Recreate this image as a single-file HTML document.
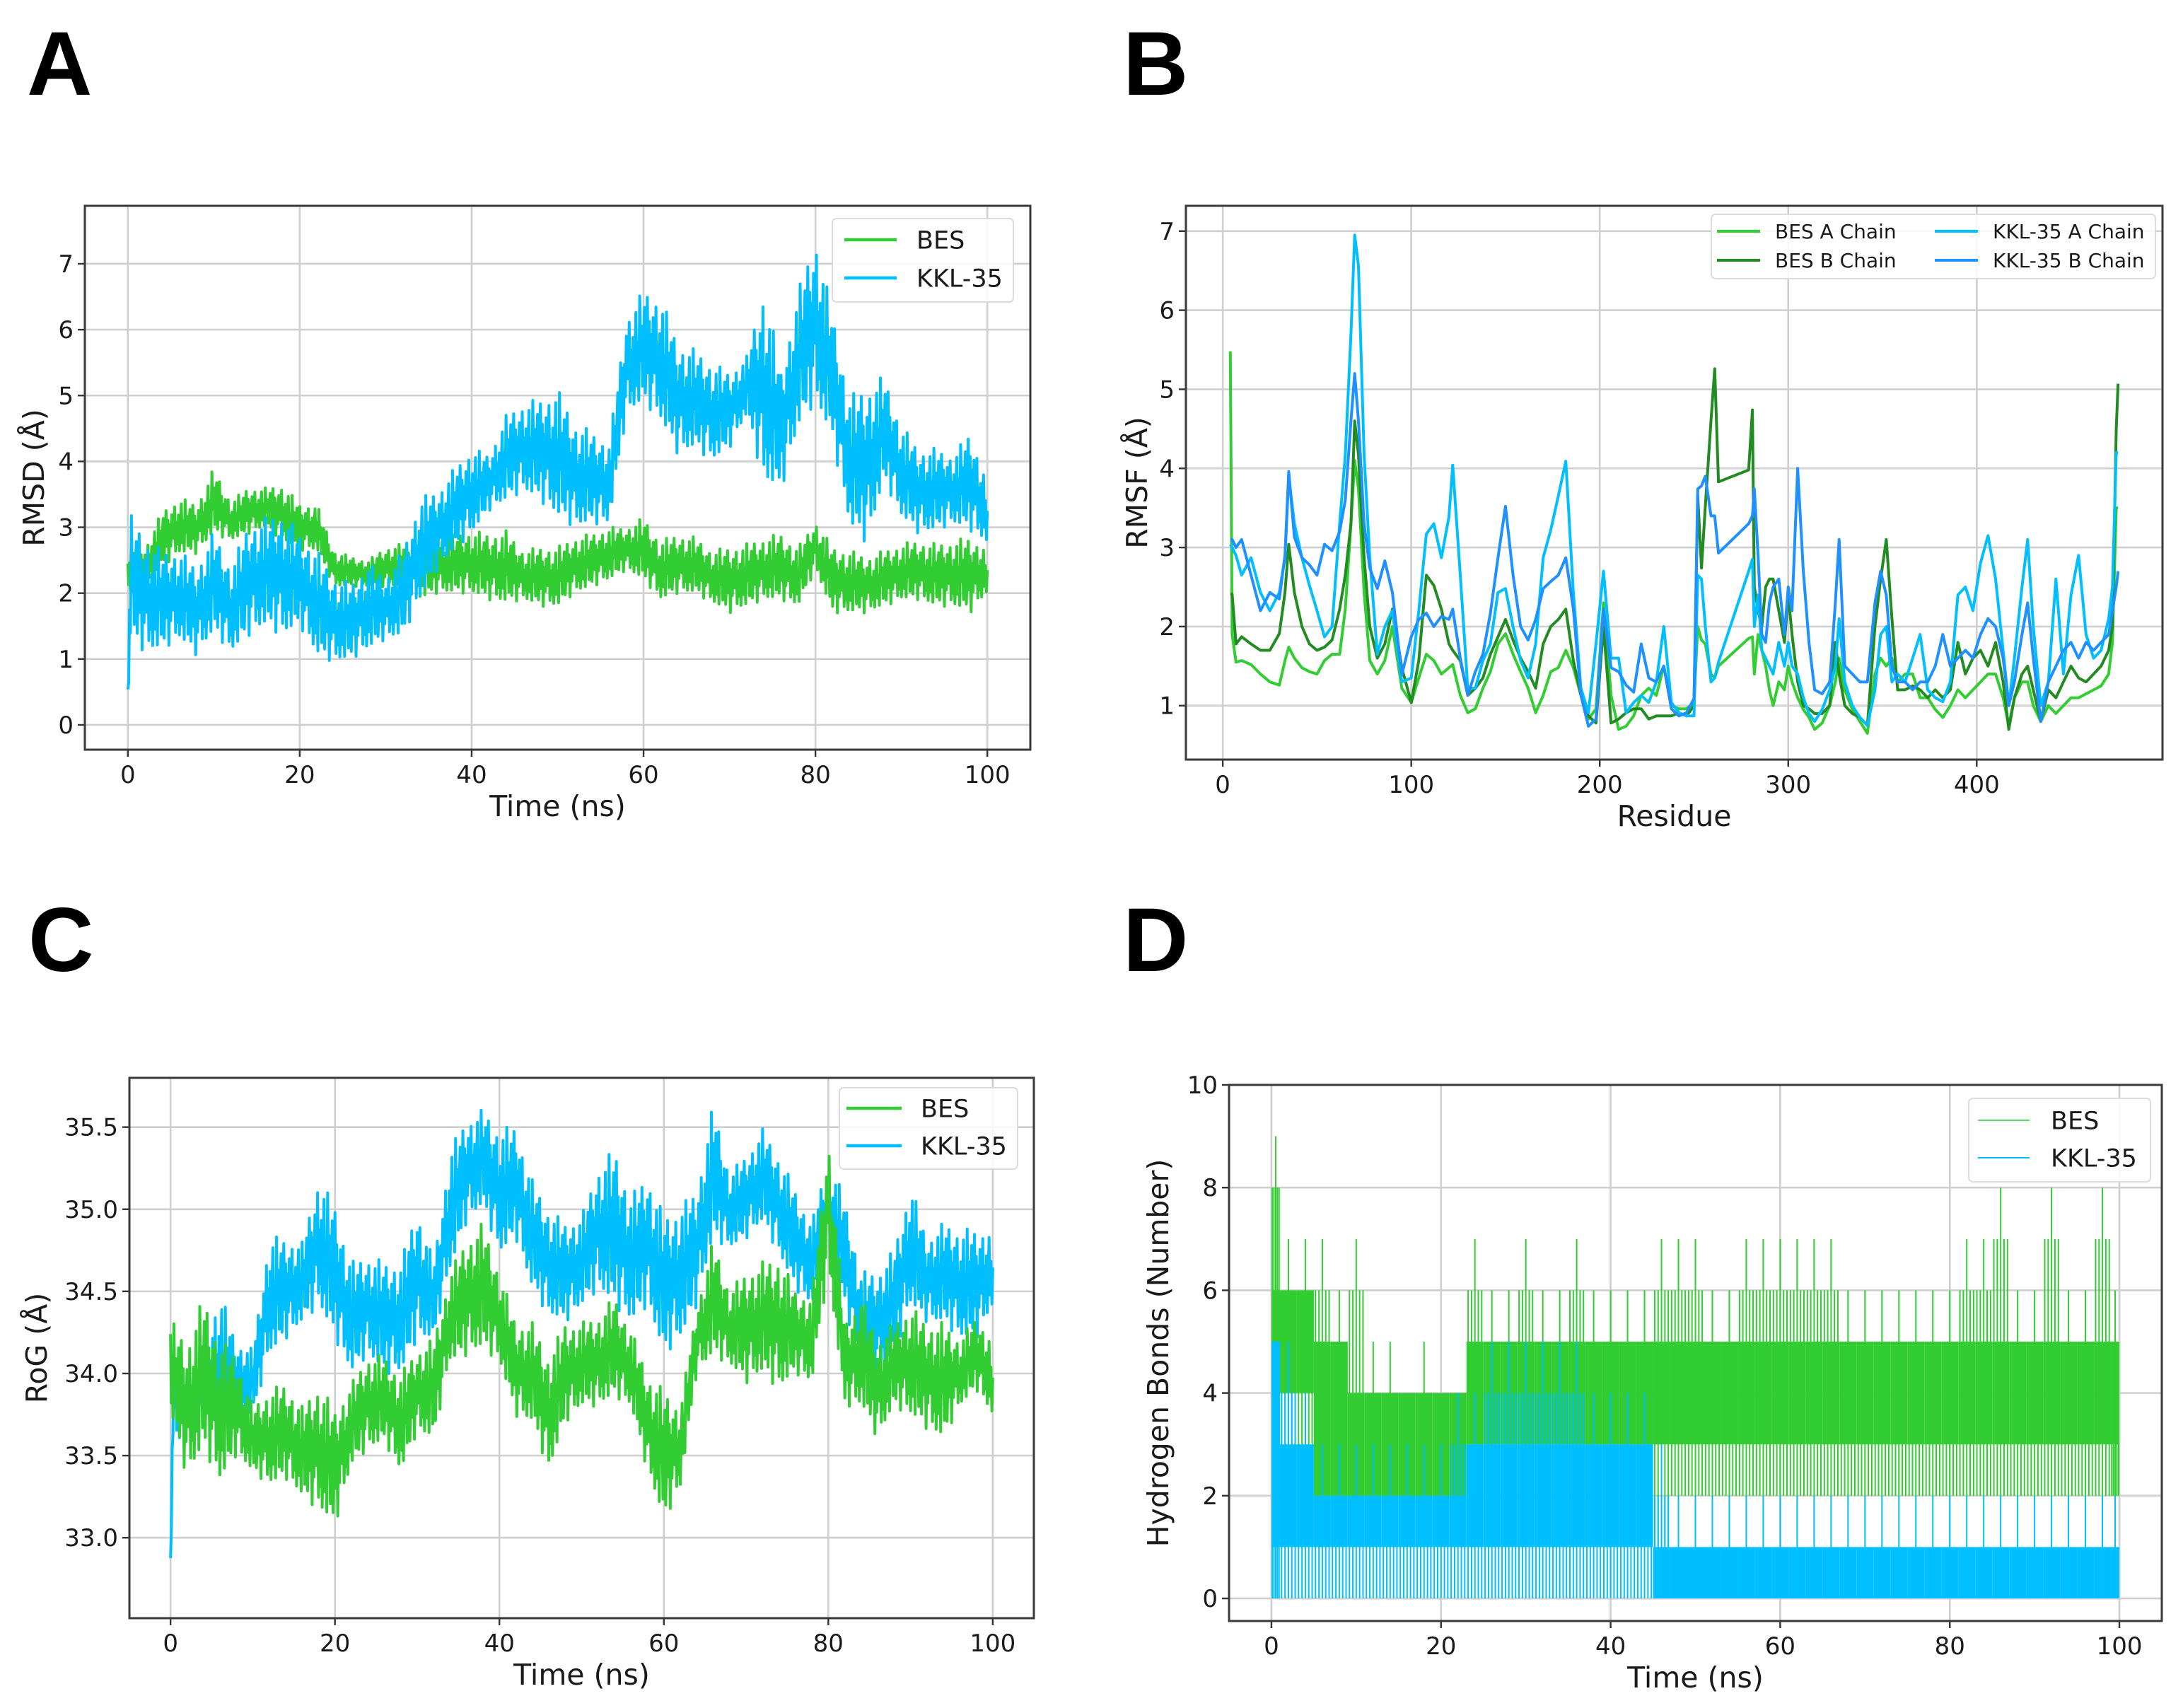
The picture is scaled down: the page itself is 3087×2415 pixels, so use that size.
<!DOCTYPE html>
<html><head><meta charset="utf-8"><title>MD analysis panels</title>
<style>
html,body{margin:0;padding:0;background:#fff;}
svg{display:block;}
text{font-family:"DejaVu Sans","Liberation Sans",sans-serif;fill:#1a1a1a;}
.letter{font-family:"Liberation Sans",sans-serif;font-weight:bold;font-size:128px;fill:#000;}
</style></head>
<body>
<svg id="fig" xmlns="http://www.w3.org/2000/svg" width="3087" height="2415" viewBox="0 0 3087 2415">
<rect x="0" y="0" width="3087" height="2415" fill="#fff"/>
<text class="letter" x="38" y="134">A</text>
<text class="letter" x="1588" y="134">B</text>
<text class="letter" x="40" y="1373">C</text>
<text class="letter" x="1588" y="1373">D</text>
</svg>
<script>
// ---------- Panel A: RMSD ----------
const A_time = [0,0.3,2,4,6,8,10,12,14,16,18,20,22,24,26,28,30,32,34,36,38,40,42,44,46,48,50,52,54,56,58,60,62,64,66,68,70,72,74,76,78,80,82,84,86,88,90,92,94,96,98,100];
const A_besHi = [2.5,2.9,2.7,3.25,3.45,3.35,3.9,3.4,3.6,3.6,3.65,3.35,3.35,2.65,2.55,2.5,2.7,2.75,2.9,2.85,2.9,2.95,2.9,2.95,2.65,2.7,2.7,2.85,2.9,3.0,3.0,3.15,2.8,2.9,2.85,2.65,2.7,2.75,2.85,2.9,2.7,3.1,2.7,2.65,2.55,2.65,2.75,2.8,2.75,2.8,2.85,2.7];
const A_besLo = [2.0,2.0,2.1,2.4,2.6,2.6,2.9,2.8,2.9,3.0,2.8,2.65,2.65,2.1,2.1,2.1,2.1,2.1,1.9,2.0,2.0,2.0,1.9,1.85,1.9,1.8,1.8,2.0,2.1,2.2,2.35,2.2,1.9,2.0,2.0,1.85,1.7,1.8,1.9,1.9,1.8,2.35,1.7,1.7,1.7,1.8,1.9,1.9,1.8,1.8,1.7,2.0];
const A_kklHi = [0.6,3.2,2.85,2.65,2.65,2.4,2.95,2.4,3.05,3.15,3.25,2.9,2.65,2.25,2.15,2.45,2.25,2.65,3.45,3.55,3.9,4.2,4.1,4.7,4.9,4.95,5.1,4.6,4.45,4.3,6.2,6.6,6.5,5.8,5.7,5.5,5.35,5.6,6.7,5.4,6.6,7.45,6.25,5.0,5.15,5.3,4.55,4.2,4.2,4.1,4.45,3.75];
const A_kklLo = [0.0,1.3,1.1,1.15,1.3,1.05,1.4,1.1,1.35,1.5,1.35,1.5,1.05,0.95,1.0,1.15,1.3,1.35,1.9,2.35,2.65,2.9,3.25,3.4,3.55,3.4,3.15,3.0,3.05,3.05,4.7,4.9,4.6,4.1,4.2,4.0,4.2,4.7,3.65,3.55,4.5,4.9,4.3,3.0,2.75,3.7,3.15,2.9,2.95,3.05,2.95,2.75];
const A_xTicks = [0,20,40,60,80,100];
const A_yTicks = [0,1,2,3,4,5,6,7];

// ---------- Panel B: RMSF ----------
const B_residue = [4,5,7,10,15,20,25,30,33,35,38,42,46,50,54,58,62,65,68,70,72,75,78,82,86,90,95,100,104,108,112,116,120,122,126,130,134,138,142,146,150,154,158,162,166,170,174,178,182,186,190,194,198,202,206,210,214,218,222,226,230,234,238,242,246,250,252,254,256,259,261,263,279,281,282,284,286,288,290,292,295,298,300,302,305,308,311,314,318,322,325,327,330,334,338,342,346,349,352,355,358,362,366,370,374,378,382,386,390,394,398,402,406,410,414,417,420,424,427,430,434,438,442,446,450,454,458,462,466,470,472,474,475];
const B_besA = [5.48,1.9,1.55,1.57,1.52,1.4,1.3,1.26,1.57,1.74, 1.6,1.48,1.43,1.4,1.57,1.65,1.65,2.22,3.3,4.1, 3.74,2.43,1.57,1.4,1.57,2.0,1.22,1.04,1.35,1.65, 1.57,1.4,1.48,1.52,1.13,0.91,0.96,1.22,1.43,1.78, 1.91,1.65,1.43,1.22,0.91,1.13,1.43,1.48,1.7,1.48, 1.13,0.83,0.96,2.3,1.13,0.7,0.74,0.87,1.13,1.22, 1.13,1.5,1.0,0.96,0.96,1.04,2.0,1.83,1.78,1.4, 1.35,1.5,1.85,1.87,1.4,1.9,1.7,1.5,1.2,1.0, 1.3,1.2,1.5,1.3,1.1,0.95,0.85,0.7,0.78,1.0, 1.3,1.6,1.2,0.95,0.8,0.65,1.4,1.6,1.5,1.6, 1.3,1.4,1.4,1.1,1.1,0.95,0.85,1.0,1.2,1.1, 1.2,1.3,1.4,1.4,1.1,0.75,1.1,1.3,1.3,1.0, 0.8,1.0,0.9,1.0,1.1,1.1,1.15,1.2,1.25,1.4, 1.8,3.5,3.5];
const B_besB = [2.41,2.41,1.78,1.87,1.78,1.7,1.7,1.91,2.43,3.04, 2.43,2.0,1.78,1.7,1.74,1.83,2.22,2.65,3.3,4.6, 4.17,2.87,2.0,1.6,1.78,2.22,1.48,1.04,1.57,2.65, 2.52,2.22,1.78,1.7,1.57,1.13,1.22,1.35,1.65,1.87, 2.09,1.83,1.6,1.43,1.22,1.78,2.0,2.09,2.22,1.57, 1.13,0.87,0.78,2.0,0.78,0.83,0.91,0.96,0.96,0.83, 0.87,0.87,0.87,0.91,0.87,1.0,3.65,2.74,3.52,4.6, 5.26,3.83,3.98,4.74,2.5,2.2,2.0,2.5,2.6,2.6, 2.2,1.8,2.4,1.9,1.3,1.0,0.96,0.9,0.9,1.0, 1.8,1.4,1.0,0.9,0.85,0.75,2.0,2.6,3.1,2.1, 1.2,1.2,1.25,1.2,1.1,1.2,1.1,1.2,1.8,1.4, 1.6,1.7,1.5,1.8,1.3,0.7,1.1,1.4,1.5,1.2, 0.8,1.2,1.1,1.3,1.5,1.35,1.3,1.4,1.5,1.7, 2.0,4.5,5.07];
const B_kklA = [3.04,3.0,2.9,2.65,2.87,2.43,2.2,2.43,2.87,3.9, 3.3,2.87,2.52,2.2,1.87,2.0,3.3,4.17,5.7,6.95, 6.56,4.17,2.87,1.65,2.0,2.2,1.3,1.35,2.2,3.17, 3.3,2.87,3.39,4.04,2.65,1.22,1.22,1.57,1.78,2.43, 2.48,2.0,1.57,1.35,1.78,2.87,3.22,3.65,4.09,2.43, 1.22,0.91,1.78,2.7,1.6,1.6,0.91,1.04,1.13,1.04, 1.3,2.0,1.04,0.91,0.87,0.87,2.65,2.6,2.0,1.3, 1.35,1.55,2.7,2.85,2.0,2.4,1.7,1.6,1.5,1.4, 1.8,1.5,1.8,1.5,1.4,1.1,0.9,0.8,0.95,1.2, 1.5,2.1,1.3,1.0,0.85,0.75,1.2,1.9,2.0,1.3, 1.4,1.3,1.6,1.9,1.2,1.1,1.05,1.3,2.4,2.5, 2.2,2.8,3.15,2.6,1.7,1.0,1.6,2.5,3.1,2.0, 1.0,1.3,2.6,1.4,2.4,2.9,1.9,1.6,1.7,2.1, 2.5,4.2,4.2];
const B_kklB = [3.1,3.1,3.0,3.1,2.65,2.2,2.43,2.35,2.9,3.96, 3.13,2.87,2.78,2.65,3.04,2.96,3.2,3.6,4.6,5.2, 4.6,3.3,2.74,2.48,2.83,2.43,1.39,1.87,2.09,2.17, 2.0,2.13,2.09,2.22,1.6,1.13,1.43,1.65,2.17,2.87, 3.52,2.65,2.0,1.83,2.09,2.48,2.57,2.65,2.87,2.22, 1.13,0.74,0.83,2.22,1.48,1.43,1.26,1.17,1.78,1.35, 1.3,1.5,0.96,0.87,0.91,1.09,3.74,3.78,3.9,3.4, 3.4,2.93,3.3,3.4,3.74,2.9,1.9,1.8,2.3,2.5, 2.6,1.9,2.5,2.2,4.0,2.7,1.8,1.2,1.15,1.3, 2.3,3.1,1.5,1.4,1.3,1.3,2.3,2.7,2.4,1.5, 1.3,1.3,1.2,1.3,1.3,1.5,1.9,1.5,1.6,1.7, 1.6,1.9,2.1,2.0,1.6,1.0,1.3,1.9,2.3,1.6, 0.8,1.3,1.5,1.7,1.8,1.6,1.8,1.7,1.8,1.9, 2.2,2.5,2.7];
const B_xTicks = [0,100,200,300,400];
const B_yTicks = [1,2,3,4,5,6,7];

// ---------- Panel C: RoG ----------
const C_time = [0,0.3,2,4,6,8,10,12,14,16,18,20,22,24,26,28,30,32,34,36,38,40,42,44,46,48,50,52,54,56,58,60,62,64,66,68,70,72,74,76,78,80,82,84,86,88,90,92,94,96,98,100];
const C_besHi = [34.3,34.31,34.19,34.47,34.21,34.11,33.8,33.9,33.94,33.8,33.94,33.78,33.94,34.11,34.11,34.0,34.15,34.21,34.62,34.82,34.92,34.62,34.31,34.31,34.11,34.31,34.31,34.35,34.47,34.27,34.0,33.9,33.8,34.41,34.82,34.51,34.62,34.68,34.72,34.51,34.47,35.47,34.31,34.47,34.21,34.31,34.41,34.31,34.31,34.21,34.35,34.21];
const C_besLo = [33.7,33.7,33.36,33.54,33.34,33.5,33.4,33.32,33.36,33.25,33.17,33.07,33.44,33.54,33.58,33.4,33.64,33.6,34.07,34.11,34.15,34.07,33.74,33.7,33.4,33.7,33.8,33.8,33.86,33.8,33.4,33.1,33.3,34.0,34.11,34.05,33.94,34.0,33.9,34.0,33.94,34.62,33.8,33.8,33.6,33.8,33.74,33.66,33.6,33.8,33.9,33.74];
const C_kklHi = [32.9,34.11,34.11,34.19,34.51,34.19,34.15,34.84,34.82,34.8,35.2,35.02,34.68,34.72,34.68,34.68,35.02,34.68,35.37,35.55,35.61,35.49,35.51,35.18,35.0,34.92,34.96,35.26,35.37,35.08,35.22,34.96,35.02,35.12,35.65,35.22,35.33,35.49,35.33,35.12,34.92,35.33,35.06,34.62,34.62,34.76,35.16,34.82,34.92,34.88,34.88,34.88];
const C_kklLo = [32.66,33.6,33.5,33.6,33.6,33.74,33.74,34.11,34.21,34.31,34.41,34.21,34.0,34.11,34.0,34.0,34.21,34.21,34.62,34.92,35.02,34.72,34.82,34.51,34.35,34.31,34.41,34.51,34.41,34.31,34.41,34.11,34.21,34.41,34.82,34.76,34.82,34.92,34.72,34.51,34.41,34.72,34.41,34.0,34.0,34.11,34.41,34.31,34.31,34.21,34.21,34.41];
const C_xTicks = [0,20,40,60,80,100];
const C_yTicks = [33.0,33.5,34.0,34.5,35.0,35.5];

// ---------- Panel D: Hydrogen bonds ----------
const D_time = [0,2,4,6,8,10,12,14,16,18,20,22,24,26,28,30,32,34,36,38,40,42,44,46,48,50,52,54,56,58,60,62,64,66,68,70,72,74,76,78,80,82,84,86,88,90,92,94,96,98,100];
const D_besLo = [4,4,4,2,2,2,2,2,2,2,2,2,3,3,3,3,3,3,3,3,3,3,3,3,3,3,3,3,3,3,3,3,3,3,3,3,3,3,3,3,3,3,3,3,3,3,3,3,3,3,3];
const D_besHi = [6,6,6,5,5,4,4,4,4,4,4,4,5,5,5,5,5,5,5,5,5,5,5,5,5,5,5,5,5,5,5,5,5,5,5,5,5,5,5,5,5,5,5,5,5,5,5,5,5,5,5];
const D_besMax = [9,7,7,7,6,7,5,5,4,5,4,4,7,6,6,7,6,6,7,6,6,6,6,7,7,7,6,6,7,7,7,7,7,7,6,6,6,6,6,6,6,7,7,8,6,6,8,6,6,8,6];
const D_besMin = [3,3,3,2,2,1,1,1,2,2,2,2,2,2,2,2,2,2,2,2,2,2,2,1,2,2,2,2,2,2,2,2,2,2,2,2,2,2,2,2,2,2,2,2,2,2,2,2,2,2,2];
const D_kklLo = [1,1,1,1,1,1,1,1,1,1,1,1,1,1,1,1,1,1,1,1,1,1,1,0,0,0,0,0,0,0,0,0,0,0,0,0,0,0,0,0,0,0,0,0,0,0,0,0,0,0,0];
const D_kklHi = [5,3,3,2,2,2,2,2,2,2,2,2,3,3,3,3,3,3,3,3,3,3,3,1,1,1,1,1,1,1,1,1,1,1,1,1,1,1,1,1,1,1,1,1,1,1,1,1,1,1,1];
const D_kklMax = [5,5,4,3,3,3,3,3,3,3,3,4,4,5,5,5,5,5,5,4,4,4,4,3,2,2,2,2,2,2,2,2,2,2,2,2,2,2,2,2,2,2,2,2,2,2,2,2,2,2,2];
const D_kklMin = [0,0,0,0,0,0,0,0,0,0,0,0,0,0,0,0,0,0,0,0,0,0,0,0,0,0,0,0,0,0,0,0,0,0,0,0,0,0,0,0,0,0,0,0,0,0,0,0,0,0,0];
const D_xTicks = [0,20,40,60,80,100];
const D_yTicks = [0,2,4,6,8,10];

const GREEN = '#32cd32', DKGREEN = '#228b22', SKY = '#00bfff', DODGER = '#1e90ff';
const NS = 'http://www.w3.org/2000/svg';
const svg = document.getElementById('fig');

function mk(tag, attrs, parent) {
  const e = document.createElementNS(NS, tag);
  for (const k in attrs) e.setAttribute(k, attrs[k]);
  (parent || svg).appendChild(e);
  return e;
}

function makeAxes(id, cfg) {
  const g = mk('g', {});
  
  
  const sx = v => cfg.L + (v - cfg.x0) / (cfg.x1 - cfg.x0) * (cfg.R - cfg.L);
  const sy = v => cfg.B - (v - cfg.y0) / (cfg.y1 - cfg.y0) * (cfg.B - cfg.T);
  const cp = mk('clipPath', {id: 'clip-' + id}, g);
  mk('rect', {x: cfg.L, y: cfg.T, width: cfg.R - cfg.L, height: cfg.B - cfg.T}, cp);
  const grid = mk('g', {stroke: '#cfcfcf', 'stroke-width': 2.6}, g);
  
  
  cfg.xt.forEach(v => {
    mk('line', {x1: sx(v), x2: sx(v), y1: cfg.T, y2: cfg.B}, grid);
    const t = mk('line', {x1: sx(v), x2: sx(v), y1: cfg.B, y2: cfg.B + 10, stroke: '#333', 'stroke-width': 2.4}, g);
    
    
    const lab = mk('text', {x: sx(v), y: cfg.B + 47, 'text-anchor': 'middle', 'font-size': 34}, g);
    lab.textContent = cfg.xfmt ? cfg.xfmt(v) : String(v);
    
    
  });
  cfg.yt.forEach(v => {
    mk('line', {x1: cfg.L, x2: cfg.R, y1: sy(v), y2: sy(v)}, grid);
    const t = mk('line', {x1: cfg.L - 10, x2: cfg.L, y1: sy(v), y2: sy(v), stroke: '#333', 'stroke-width': 2.4}, g);
    
    
    const lab = mk('text', {x: cfg.L - 16, y: sy(v) + 12, 'text-anchor': 'end', 'font-size': 34}, g);
    lab.textContent = cfg.yfmt ? cfg.yfmt(v) : String(v);
    
    
  });
  const data = mk('g', {'clip-path': 'url(#clip-' + id + ')'}, g);
  
  
  const xl = mk('text', {x: (cfg.L + cfg.R) / 2, y: cfg.B + 94, 'text-anchor': 'middle', 'font-size': 41}, g);
  xl.textContent = cfg.xlabel;
  
  
  const yc = (cfg.T + cfg.B) / 2;
  const yl = mk('text', {x: cfg.ylx, y: yc, 'text-anchor': 'middle', 'font-size': 41, transform: 'rotate(-90 ' + cfg.ylx + ' ' + yc + ')'}, g);
  yl.textContent = cfg.ylabel;
  
  
  return {g, data, sx, sy, cfg};
}

function frame(ax) {
  const c = ax.cfg;
  const f = mk('rect', {x: c.L, y: c.T, width: c.R - c.L, height: c.B - c.T, fill: 'none', stroke: '#3a3a3a', 'stroke-width': 3}, ax.g);
  
  
}

const PAT = [0.9,0.2,0.6,0.05,1,0.4,0.7,0.15,0.55,0.85,0.1,0.5,0.95,0.3,0.75,0,0.65,0.25,0.8,0.45,0.35,0.9,0.1,0.6,0.2,0.7,0.05,0.5];
function noisyBand(ax, times, hi, lo, color, width, name) {
  let pts = [], k = 0;
  for (let i = 0; i < times.length - 1; i++) {
    const n = Math.max(2, Math.round((times[i + 1] - times[i]) * 9));
    for (let j = 0; j < n; j++) {
      const f = j / n;
      const t = times[i] + (times[i + 1] - times[i]) * f;
      const h = hi[i] + (hi[i + 1] - hi[i]) * f;
      const l = lo[i] + (lo[i + 1] - lo[i]) * f;
      const p = PAT[k % PAT.length]; k++;
      const v = l + (h - l) * p;
      pts.push(ax.sx(t).toFixed(1) + ',' + ax.sy(v).toFixed(1));
    }
  }
  const last = times.length - 1;
  pts.push(ax.sx(times[last]).toFixed(1) + ',' + ax.sy((hi[last] + lo[last]) / 2).toFixed(1));
  const pl = mk('polyline', {points: pts.join(' '), fill: 'none', stroke: color, 'stroke-width': width, 'stroke-linejoin': 'round'}, ax.data);
  
  
}

function simpleLine(ax, xs, ys, color, width, name) {
  const pts = xs.map((x, i) => ax.sx(x).toFixed(1) + ',' + ax.sy(ys[i]).toFixed(1)).join(' ');
  const pl = mk('polyline', {points: pts, fill: 'none', stroke: color, 'stroke-width': width, 'stroke-linejoin': 'round'}, ax.data);
  
  
}

function legend(ax, box, entries, fs, lw) {
  const lg = mk('g', {}, ax.g);
  
  
  mk('rect', {x: box.x, y: box.y, width: box.w, height: box.h, rx: 6, fill: '#fff', 'fill-opacity': 0.85, stroke: '#dcdcdc', 'stroke-width': 2}, lg);
  entries.forEach(e => {
    const it = mk('g', {}, lg);
    
    
    mk('line', {x1: e.x1, x2: e.x2, y1: e.y, y2: e.y, stroke: e.c, 'stroke-width': lw}, it);
    const t = mk('text', {x: e.tx, y: e.y + fs * 0.36, 'font-size': fs}, it);
    t.textContent = e.label;
  });
}

// ---- Panel A ----
const axA = makeAxes('a', {L: 120, R: 1457, T: 291, B: 1060, x0: -5, x1: 105, y0: -0.376, y1: 7.88, xt: A_xTicks, yt: A_yTicks, xlabel: 'Time (ns)', ylabel: 'RMSD (Å)', ylx: 62});
noisyBand(axA, A_time, A_besHi, A_besLo, GREEN, 4, 'bes-rmsd-line');
noisyBand(axA, A_time, A_kklHi, A_kklLo, SKY, 4, 'kkl35-rmsd-line');
legend(axA, {x: 1177, y: 309, w: 256, h: 118}, [
  {x1: 1194, x2: 1268, tx: 1296, y: 339, c: GREEN, label: 'BES'},
  {x1: 1194, x2: 1268, tx: 1296, y: 393, c: SKY, label: 'KKL-35'}], 35, 4.5);
frame(axA);

// ---- Panel B ----
const axB = makeAxes('b', {L: 1677, R: 3058, T: 291, B: 1074, x0: -19.55, x1: 498.55, y0: 0.318, y1: 7.32, xt: B_xTicks, yt: B_yTicks, xlabel: 'Residue', ylabel: 'RMSF (Å)', ylx: 1622});
simpleLine(axB, B_residue, B_besA, GREEN, 4, 'bes-a-chain-line');
simpleLine(axB, B_residue, B_besB, DKGREEN, 4, 'bes-b-chain-line');
simpleLine(axB, B_residue, B_kklA, SKY, 4, 'kkl35-a-chain-line');
simpleLine(axB, B_residue, B_kklB, DODGER, 4, 'kkl35-b-chain-line');
legend(axB, {x: 2420, y: 303, w: 628, h: 91}, [
  {x1: 2428, x2: 2489, tx: 2510, y: 327, c: GREEN, label: 'BES A Chain'},
  {x1: 2428, x2: 2489, tx: 2510, y: 368, c: DKGREEN, label: 'BES B Chain'},
  {x1: 2736, x2: 2797, tx: 2818, y: 327, c: SKY, label: 'KKL-35 A Chain'},
  {x1: 2736, x2: 2797, tx: 2818, y: 368, c: DODGER, label: 'KKL-35 B Chain'}], 28, 4);
frame(axB);

// ---- Panel C ----
const axC = makeAxes('c', {L: 183, R: 1462, T: 1524, B: 2288, x0: -5, x1: 105, y0: 32.51, y1: 35.80, xt: C_xTicks, yt: C_yTicks, xlabel: 'Time (ns)', ylabel: 'RoG (Å)', ylx: 66, yfmt: v => v.toFixed(1)});
noisyBand(axC, C_time, C_kklHi, C_kklLo, SKY, 4, 'kkl35-rog-line');
noisyBand(axC, C_time, C_besHi, C_besLo, GREEN, 4, 'bes-rog-line');
legend(axC, {x: 1187, y: 1538, w: 252, h: 115}, [
  {x1: 1197, x2: 1275, tx: 1302, y: 1567, c: GREEN, label: 'BES'},
  {x1: 1197, x2: 1275, tx: 1302, y: 1620, c: SKY, label: 'KKL-35'}], 35, 4.5);
frame(axC);

// ---- Panel D ----
const axD = makeAxes('d', {L: 1738, R: 3057, T: 1534, B: 2292, x0: -5, x1: 105, y0: -0.44, y1: 10, xt: D_xTicks, yt: D_yTicks, xlabel: 'Time (ns)', ylabel: 'Hydrogen Bonds (Number)', ylx: 1652});
function hbondSeries(ax, times, lo, hi, mn, mx, color, name) {
  const g = mk('g', {}, ax.data);
  
  
  for (let i = 0; i < times.length; i++) {
    const a = Math.max(0, times[i] - 1), b = Math.min(100, times[i] + 1);
    mk('rect', {x: ax.sx(a), y: ax.sy(hi[i]), width: ax.sx(b) - ax.sx(a), height: ax.sy(lo[i]) - ax.sy(hi[i]), fill: color}, g);
    for (let s = 0; s < 5; s++) {
      const t = a + (b - a) * (0.1 + 0.2 * s);
      const top = s === 2 ? mx[i] : Math.max(hi[i], mx[i] - 1);
      mk('line', {x1: ax.sx(t), x2: ax.sx(t), y1: ax.sy(top), y2: ax.sy(mn[i]), stroke: color, 'stroke-width': 2}, g);
    }
  }
}
hbondSeries(axD, D_time, D_besLo, D_besHi, D_besMin, D_besMax, GREEN, 'bes-hbond-series');
hbondSeries(axD, D_time, D_kklLo, D_kklHi, D_kklMin, D_kklMax, SKY, 'kkl35-hbond-series');
legend(axD, {x: 2784, y: 1553, w: 257, h: 118}, [
  {x1: 2797, x2: 2870, tx: 2900, y: 1584, c: '#5cd65c', label: 'BES'},
  {x1: 2797, x2: 2870, tx: 2900, y: 1637, c: SKY, label: 'KKL-35'}], 35, 2);
frame(axD);
</script>
</body></html>
